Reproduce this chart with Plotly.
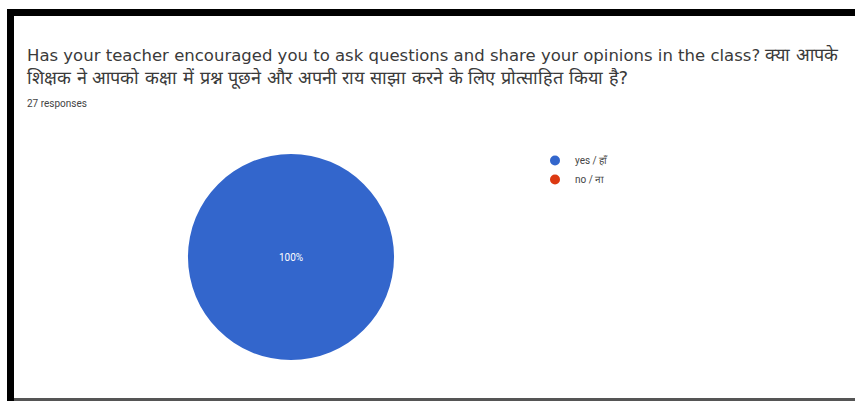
import plotly.graph_objects as go

# Survey answers
labels = ["yes / हाँ", "no / ना"]
counts = [27, 0]
colors = ["#3366CC", "#DC3912"]

title_en = "Has your teacher encouraged you to ask questions and share your opinions in the class?"
title_hi_1 = "क्या आपके"
title_hi_2 = "शिक्षक ने आपको कक्षा में प्रश्न पूछने और अपनी राय साझा करने के लिए प्रोत्साहित किया है?"
responses_text = f"{sum(counts)} responses"

W, H = 855, 401


def px(x):
    return x / W


def py(y):
    return 1 - y / H


def hindi(s):
    return f'<span style="font-size:18px">{s}</span>'


fig = go.Figure()

total = sum(counts)
slice_text = [f"{round(100 * c / total)}%" if c else "" for c in counts]

fig.add_trace(go.Pie(
    labels=labels,
    values=counts,
    marker=dict(colors=colors, line=dict(width=0)),
    text=slice_text,
    textinfo="text",
    textposition="inside",
    insidetextfont=dict(color="white", size=10, family="Roboto"),
    sort=False,
    direction="clockwise",
    showlegend=False,
    hoverinfo="label+value+percent",
    domain=dict(x=[px(188), px(394)], y=[py(360), py(154)]),
))

# Circular legend entries, one per answer
for lab, col in zip(labels, colors):
    fig.add_trace(go.Scatter(
        x=[None], y=[None], mode="markers", name=lab,
        marker=dict(color=col, size=10, symbol="circle"),
        showlegend=True,
    ))

fig.update_xaxes(visible=False)
fig.update_yaxes(visible=False)

shapes = [
    # frame: top bar, left bar, bottom rule
    dict(type="rect", xref="paper", yref="paper", x0=px(7), x1=1, y0=py(16), y1=py(9),
         fillcolor="black", line=dict(width=0), layer="above"),
    dict(type="rect", xref="paper", yref="paper", x0=px(7), x1=px(14), y0=0, y1=py(9),
         fillcolor="black", line=dict(width=0), layer="above"),
    dict(type="rect", xref="paper", yref="paper", x0=px(14), x1=1, y0=0, y1=py(398),
         fillcolor="#555555", line=dict(width=0), layer="above"),
]

title_font = dict(family="DejaVu Sans, sans-serif", size=16.5, color="#3a3a3a")

annotations = [
    dict(text=f"{title_en} {hindi(title_hi_1)}", x=px(25), y=py(54), xref="paper", yref="paper",
         xanchor="left", yanchor="middle", showarrow=False, font=title_font),
    dict(text=hindi(title_hi_2), x=px(25), y=py(78), xref="paper", yref="paper",
         xanchor="left", yanchor="middle", showarrow=False, font=title_font),
    dict(text=responses_text, x=px(25), y=py(103), xref="paper", yref="paper",
         xanchor="left", yanchor="middle", showarrow=False,
         font=dict(family="Roboto, sans-serif", size=10, color="#444444")),
]

fig.update_layout(
    width=W, height=H,
    margin=dict(l=0, r=0, t=0, b=0),
    paper_bgcolor="white", plot_bgcolor="white",
    shapes=shapes,
    annotations=annotations,
    legend=dict(x=px(535), y=py(146), xanchor="left", yanchor="top",
                font=dict(family="Roboto, sans-serif", size=10, color="#444444"),
                itemwidth=30, tracegroupgap=0, bgcolor="rgba(0,0,0,0)"),
)

fig.write_html("out.html")
